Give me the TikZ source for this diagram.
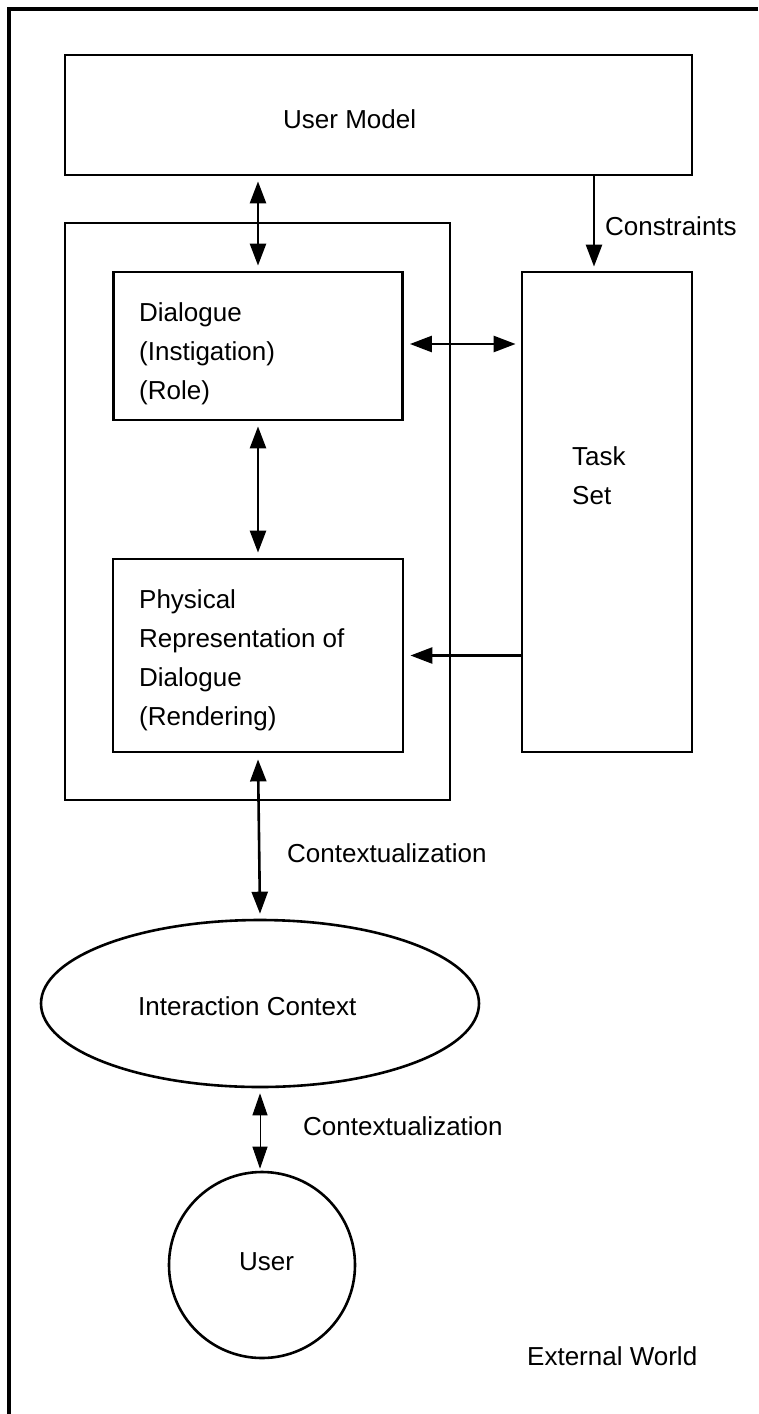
\documentclass[tikz,border=0pt]{standalone}
\usepackage{fontspec}
\setmainfont{Liberation Sans}
\usetikzlibrary{arrows.meta,shapes.geometric}
\begin{document}
\begin{tikzpicture}[x=1pt,y=-1pt,
  box/.style={draw,line width=2.8pt,inner sep=0pt,rectangle},
  txt/.style={inner sep=0pt,font=\fontsize{26}{39}\selectfont},
  mtxt/.style={txt,align=left,anchor=north west},
  arr/.style={line width=2.6pt,-{Triangle[length=22pt,width=16pt]}},
  dbl/.style={line width=2.6pt,{Triangle[length=22pt,width=16pt]}-{Triangle[length=22pt,width=16pt]}},
  thindbl/.style={line width=1pt,{Triangle[length=22pt,width=15pt]}-{Triangle[length=22pt,width=15pt]}}]
\useasboundingbox (0,0) rectangle (758,1414);
\draw[line width=3.2pt] (758,9) -- (9,9) -- (9,1414);

\node[box,minimum width=627pt,minimum height=120pt] (um) at (378.5,115) {};
\node[txt,anchor=base west] (umt) at (283,128) {User Model};

\node[box,minimum width=385pt,minimum height=577pt] (cont) at (257.5,511.5) {};
\node[box,minimum width=289pt,minimum height=148pt] (dlg) at (258,346) {};
\node[mtxt] (dlgt) at (139,302) {Dialogue\\(Instigation)\\(Role)};

\node[box,minimum width=170pt,minimum height=480pt] (task) at (607,512) {};
\node[mtxt] (taskt) at (572,446) {Task\\Set};

\node[box,minimum width=290pt,minimum height=193pt] (phys) at (258,655.5) {};
\node[mtxt] (physt) at (139,589) {Physical\\Representation of\\Dialogue\\(Rendering)};

\node[draw,ellipse,line width=2.6pt,inner sep=0pt,minimum width=438pt,minimum height=167pt] (ic) at (260,1003.5) {};
\node[txt,anchor=base west] (ict) at (138,1015) {Interaction Context};

\node[draw,circle,line width=2.6pt,inner sep=0pt,minimum size=186pt] (user) at (262,1265) {};
\node[txt,anchor=base west] (usert) at (239,1270) {User};

\node[txt,anchor=base west] (ext) at (527,1365) {External World};
\node[txt,anchor=base west] (cons) at (605,235) {Constraints};
\node[txt,anchor=base west] (ctx1) at (287,862) {Contextualization};
\node[txt,anchor=base west] (ctx2) at (303,1135) {Contextualization};

\draw[dbl] ([yshift=-5pt]um.south -| dlg.north) -- ([yshift=5pt]dlg.north);
\draw[arr] ([xshift=-13pt]um.south -| task.north) -- ([xshift=-13pt,yshift=4pt]task.north);
\draw[dbl] ([xshift=6pt,yshift=2pt]dlg.east) -- ([xshift=-5pt,yshift=2pt]dlg.east -| task.west);
\draw[arr] (phys.east -| task.west) -- ([xshift=6pt]phys.east);
\draw[dbl] ([yshift=-5pt]dlg.south) -- ([yshift=5pt]phys.north);
\draw[dbl] ([yshift=-6pt]phys.south) -- ([yshift=5pt]ic.north);
\draw[thindbl] ([yshift=-5pt]ic.south) -- ([xshift=-2pt,yshift=2pt]user.north);
\end{tikzpicture}
\end{document}
